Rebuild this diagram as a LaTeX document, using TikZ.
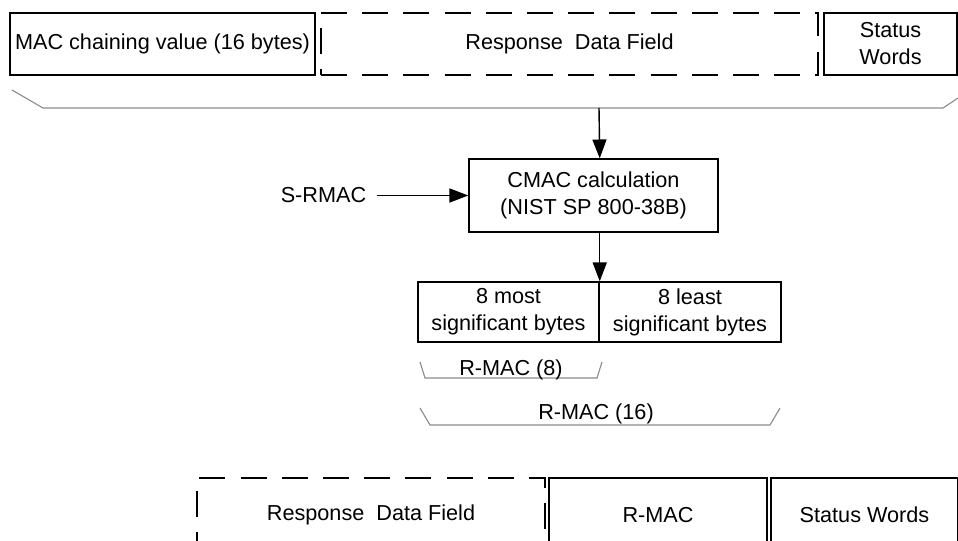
\documentclass[tikz,border=0pt]{standalone}
\usepackage{fontspec}
\setmainfont{Liberation Sans}
\usetikzlibrary{arrows.meta}

\tikzset{
  box/.style={draw, line width=1pt, inner sep=0pt, align=center},
  dashbox/.style={box, dash pattern=on 0.65cm off 0.38cm},
  brace/.style={draw=black!45, line width=0.8pt},
  arr/.style={line width=1pt, -{Triangle[length=0.47cm, width=0.35cm]}},
}

\begin{document}
\begin{tikzpicture}[x=0.025cm, y=-0.025cm,
  font=\fontsize{15.4}{19.2}\selectfont]
\clip (0,0) rectangle (958,540);
% top row
\node[box, minimum width=7.625cm, minimum height=1.55cm] (mac) at (162.5,44) {MAC chaining value (16 bytes)};
\node[dashbox, minimum width=12.425cm, minimum height=1.55cm] (rdf) at (569.5,44) {Response~ Data Field};
\node[box, minimum width=3.325cm, minimum height=1.55cm] (sw) at (890.5,44) {Status\\Words};
\draw[brace] (12,90) -- (43,108) -- (943,108) -- (958,98);
\coordinate (join) at (599,108);
% CMAC
\node[box, minimum width=6.225cm, minimum height=1.825cm] (cmac) at (593.5,195.5) {CMAC calculation\\(NIST SP 800-38B)};
\node[inner sep=0.27cm] (srmac) at (323.5,195.5) {S-RMAC};
\node[box, minimum width=4.525cm, minimum height=1.5cm] (msb) at (508.5,312) {8 most\\significant bytes};
\node[box, minimum width=4.55cm, minimum height=1.5cm] (lsb) at (690,312) {8 least\\significant bytes};
\draw[arr] (join) -- (cmac.north -| msb.east);
\draw[arr] (srmac.east) -- (cmac.west);
\draw[arr] (cmac.south -| msb.east) -- (msb.north east);
% R-MAC lengths
\draw[brace] (420,362) -- (425,378) -- (597,378) -- (602,362);
\node (rmac8) at (511,370) {R-MAC (8)};
\draw[brace] (420,408) -- (430,425) -- (770,425) -- (780,408);
\node (rmac16) at (596,414) {R-MAC (16)};
% bottom row
\node[dashbox, minimum width=8.7cm, minimum height=1.85cm] (rdf2) at (371,515) {Response~ Data Field};
\node[box, minimum width=5.45cm, minimum height=1.85cm] (rmac) at (658,515) {R-MAC};
\node[box, minimum width=4.675cm, minimum height=1.85cm] (sw2) at (864.5,515) {Status Words};
\end{tikzpicture}
\end{document}
